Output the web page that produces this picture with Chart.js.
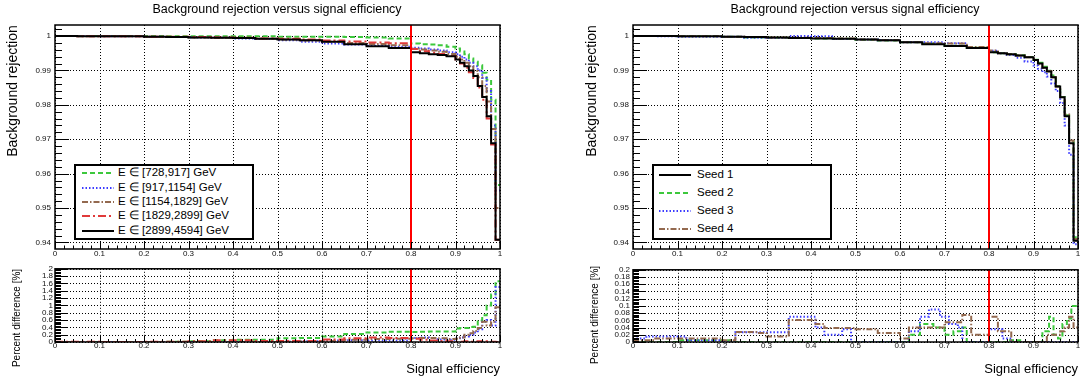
<!DOCTYPE html>
<html>
<head>
<meta charset="utf-8">
<script src="https://cdn.jsdelivr.net/npm/chart.js@4.4.1/dist/chart.umd.min.js"></script>
<style>
  body { margin: 0; background: #fff; }
  #wrap { position: relative; width: 1082px; height: 383px; overflow: hidden; font-family: "Liberation Sans", Arial, sans-serif; color: #000; }
  canvas { position: absolute; }
  .txt { position: absolute; white-space: nowrap; line-height: 1; }
  .center { transform: translate(-50%, -50%); }
  .rot { transform: translate(-50%, -50%) rotate(-90deg); }
  .right { transform: translate(-100%, -50%); }
  .legend { position: absolute; box-sizing: border-box; border: 2px solid #000; background: #fff; }
  .legend .row { position: relative; font-size: 11.5px; }
  .legend svg { position: absolute; top: 50%; transform: translateY(-50%); }
  .legend span { position: absolute; top: 50%; transform: translateY(-50%); line-height: 1; white-space: nowrap; }
</style>
</head>
<body>
<div id="wrap">
  <canvas id="mainL" width="541" height="262" style="left:0;top:0;width:541px;height:262px"></canvas>
  <canvas id="diffL" width="541" height="121" style="left:0;top:262px;width:541px;height:121px"></canvas>
  <canvas id="mainR" width="541" height="262" style="left:541px;top:0;width:541px;height:262px"></canvas>
  <canvas id="diffR" width="541" height="121" style="left:541px;top:262px;width:541px;height:121px"></canvas>

  <div class="txt center" style="left:277px;top:9px;font-size:12.5px">Background rejection versus signal efficiency</div>
  <div class="txt center" style="left:855px;top:9px;font-size:12.5px">Background rejection versus signal efficiency</div>
  <div class="txt rot" style="left:12px;top:91px;font-size:14px">Background rejection</div>
  <div class="txt rot" style="left:591px;top:91px;font-size:14px">Background rejection</div>
  <div class="txt rot" style="left:17px;top:318px;font-size:10px">Percent difference [%]</div>
  <div class="txt rot" style="left:595px;top:315px;font-size:10px">Percent difference  [%]</div>
  <div class="txt right" style="left:500px;top:368px;font-size:13px">Signal efficiency</div>
  <div class="txt right" style="left:1078px;top:368px;font-size:13px">Signal efficiency</div>

  <div class="legend" id="legL" style="left:74px;top:164px;width:180px;height:76px"></div>
  <div class="legend" id="legR" style="left:652px;top:164px;width:180px;height:76px"></div>
</div>

<script>
const FONT = "'Liberation Sans', Arial, sans-serif";

// axes
const X_TICKS = [0, 0.1, 0.2, 0.3, 0.4, 0.5, 0.6, 0.7, 0.8, 0.9, 1];
const X_LABELS = ["0", "0.1", "0.2", "0.3", "0.4", "0.5", "0.6", "0.7", "0.8", "0.9", "1"];
const REJ_TICKS = [0.94, 0.95, 0.96, 0.97, 0.98, 0.99, 1];
const REJ_LABELS = ["0.94", "0.95", "0.96", "0.97", "0.98", "0.99", "1"];
const DIFF_L_TICKS = [0, 0.2, 0.4, 0.6, 0.8, 1, 1.2, 1.4, 1.6, 1.8, 2];
const DIFF_L_LABELS = ["0", "0.2", "0.4", "0.6", "0.8", "1", "1.2", "1.4", "1.6", "1.8", "2"];
const DIFF_R_TICKS = [0, 0.02, 0.04, 0.06, 0.08, 0.1, 0.12, 0.14, 0.16, 0.18, 0.2];
const DIFF_R_LABELS = ["0", "0.02", "0.04", "0.06", "0.08", "0.1", "0.12", "0.14", "0.16", "0.18", "0.2"];
const REJ_MIN = 0.9381, REJ_MAX = 1.0032;
const CUT = 0.8;

// signal efficiency bin edges (left edge of each step)
const EFF = [0, 0.05, 0.1, 0.15, 0.2, 0.25, 0.3, 0.35, 0.4, 0.45, 0.5, 0.55, 0.6, 0.65, 0.7, 0.75,
  0.8, 0.82, 0.84, 0.86, 0.88, 0.9, 0.91, 0.92, 0.93, 0.94, 0.95, 0.96, 0.97, 0.98, 0.99, 1];

// left panel: energy bins
const E_NAMES = ["E \u2208 [728,917] GeV", "E \u2208 [917,1154] GeV", "E \u2208 [1154,1829] GeV", "E \u2208 [1829,2899] GeV", "E \u2208 [2899,4594] GeV"];
const rejE1 = [1.0000, 1.0000, 1.0000, 1.0000, 1.0000, 0.9999, 0.9999, 0.9999, 0.9999, 0.9999, 0.9998, 0.9998, 0.9998, 0.9997, 0.9996, 0.9993,
  0.9978, 0.9976, 0.9975, 0.9973, 0.9969, 0.9964, 0.9955, 0.9947, 0.9935, 0.9925, 0.9915, 0.9893, 0.9873, 0.9815, 0.9567, 0.9567];
const rejE2 = [1.0000, 1.0000, 0.9999, 0.9999, 0.9998, 0.9997, 0.9996, 0.9995, 0.9993, 0.9991, 0.9988, 0.9983, 0.9978, 0.9975, 0.9972, 0.9969,
  0.9966, 0.9964, 0.9961, 0.9958, 0.9953, 0.9947, 0.9940, 0.9932, 0.9922, 0.9912, 0.9900, 0.9878, 0.9840, 0.9740, 0.9551, 0.9551];
const rejE3 = [1.0000, 0.9999, 0.9999, 0.9999, 0.9998, 0.9997, 0.9996, 0.9995, 0.9994, 0.9992, 0.9990, 0.9987, 0.9984, 0.9980, 0.9977, 0.9973,
  0.9963, 0.9961, 0.9958, 0.9954, 0.9948, 0.9940, 0.9932, 0.9922, 0.9912, 0.9898, 0.9880, 0.9855, 0.9810, 0.9730, 0.9500, 0.9500];
const rejE4 = [1.0000, 0.9999, 0.9999, 0.9999, 0.9998, 0.9998, 0.9997, 0.9996, 0.9995, 0.9993, 0.9992, 0.9990, 0.9987, 0.9984, 0.9981, 0.9979,
  0.9962, 0.9956, 0.9951, 0.9948, 0.9942, 0.9932, 0.9920, 0.9908, 0.9895, 0.9878, 0.9850, 0.9815, 0.9760, 0.9685, 0.9408, 0.9408];
const rejE5 = [1.0000, 0.9999, 0.9999, 0.9999, 0.9998, 0.9997, 0.9996, 0.9995, 0.9994, 0.9992, 0.9990, 0.9988, 0.9983, 0.9976, 0.9970, 0.9965,
  0.9953, 0.9950, 0.9947, 0.9945, 0.9941, 0.9932, 0.9922, 0.9912, 0.9900, 0.9884, 0.9855, 0.9823, 0.9767, 0.9688, 0.9408, 0.9408];

// left panel: percent difference to the highest energy bin
const diffE1 = [0, 0, 0, 0, 0, 0.01, 0.02, 0.05, 0.06, 0.06, 0.10, 0.11, 0.15, 0.22, 0.26, 0.28,
  0.27, 0.28, 0.29, 0.29, 0.29, 0.37, 0.38, 0.38, 0.41, 0.42, 0.59, 0.73, 1.00, 1.30, 1.66, 1.66];
const diffE2 = [0, 0, 0, 0, 0, 0, 0, 0, 0, 0, 0.01, 0.02, 0.04, 0.05, 0.04, 0.04,
  0.11, 0.12, 0.11, 0.07, 0.06, 0.10, 0.12, 0.15, 0.20, 0.26, 0.35, 0.55, 0.60, 0.45, 1.50, 1.50];
const diffE3 = [0, 0, 0, 0, 0, 0, 0, 0, 0, 0, 0.01, 0.02, 0.03, 0.06, 0.08, 0.09,
  0.10, 0.11, 0.11, 0.10, 0.08, 0.09, 0.12, 0.20, 0.24, 0.30, 0.38, 0.55, 0.45, 0.55, 0.95, 0.95];
const diffE4 = [0.01, 0.01, 0, 0, 0.01, 0.01, 0.02, 0.05, 0.05, 0.03, 0.03, 0.03, 0.07, 0.10, 0.12, 0.11,
  0.09, 0.06, 0.04, 0.03, 0.02, 0.01, 0.01, 0.02, 0.01, 0.01, 0.02, 0.01, 0.02, 0.01, 0, 0];

// right panel: seeds
const SEED_NAMES = ["Seed 1", "Seed 2", "Seed 3", "Seed 4"];
const rejSeed1 = [1.0000, 1.0000, 0.9999, 0.9999, 0.9998, 0.9997, 0.9996, 0.9994, 0.9993, 0.9992, 0.9990, 0.9988, 0.9982, 0.9976, 0.9971, 0.9965,
  0.9953, 0.9950, 0.9947, 0.9943, 0.9938, 0.9930, 0.9920, 0.9908, 0.9897, 0.9880, 0.9853, 0.9822, 0.9767, 0.9688, 0.9405, 0.9405];
const rejSeed2 = [1.0000, 1.0000, 0.9999, 0.9999, 0.9998, 0.9996, 0.9995, 0.9994, 0.9993, 0.9992, 0.9989, 0.9987, 0.9982, 0.9978, 0.9972, 0.9966,
  0.9953, 0.9950, 0.9947, 0.9944, 0.9939, 0.9931, 0.9922, 0.9911, 0.9899, 0.9885, 0.9855, 0.9823, 0.9770, 0.9695, 0.9415, 0.9415];
const rejSeed3 = [1.0000, 0.9999, 0.9998, 0.9998, 0.9998, 0.9995, 0.9994, 1.0000, 0.9999, 0.9991, 0.9990, 0.9988, 0.9982, 0.9982, 0.9979, 0.9965,
  0.9957, 0.9950, 0.9945, 0.9937, 0.9926, 0.9914, 0.9905, 0.9895, 0.9882, 0.9862, 0.9840, 0.9805, 0.9740, 0.9655, 0.9395, 0.9395];
const rejSeed4 = [1.0000, 1.0000, 0.9999, 0.9999, 0.9998, 0.9997, 0.9996, 0.9995, 0.9994, 0.9993, 0.9990, 0.9988, 0.9982, 0.9979, 0.9978, 0.9968,
  0.9958, 0.9950, 0.9947, 0.9943, 0.9938, 0.9930, 0.9918, 0.9908, 0.9898, 0.9880, 0.9853, 0.9822, 0.9772, 0.9696, 0.9410, 0.9410];

// right panel: percent difference to seed 1 (own step edges per seed)
const diffSeed2X = [0, 0.1, 0.2, 0.22, 0.62, 0.645, 0.675, 0.7, 0.72, 0.74, 0.75, 0.84, 0.87, 0.92, 0.935, 0.945, 0.955, 0.965, 0.975, 0.985, 1];
const diffSeed2Y = [0, 0.005, 0.005, 0, 0.02, 0.05, 0.04, 0.02, 0.03, 0.04, 0, 0.005, 0, 0.03, 0.07, 0.02, 0.01, 0.05, 0.065, 0.1, 0.1];
const diffSeed3X = [0, 0.01, 0.03, 0.12, 0.2, 0.23, 0.35, 0.41, 0.43, 0.47, 0.49, 0.62, 0.645, 0.665, 0.69, 0.71, 0.73, 0.74, 0.8, 0.83, 0.85, 1];
const diffSeed3Y = [0, 0.01, 0.015, 0.005, 0, 0.027, 0.07, 0.04, 0.02, 0.035, 0, 0.03, 0.07, 0.09, 0.07, 0.05, 0.04, 0, 0.035, 0.01, 0, 0];
const diffSeed4X = [0, 0.05, 0.1, 0.2, 0.23, 0.28, 0.3, 0.35, 0.41, 0.43, 0.5, 0.55, 0.6, 0.62, 0.7, 0.74, 0.76, 0.8, 0.82, 0.85, 0.93, 0.96, 0.97, 0.98, 0.99, 1];
const diffSeed4Y = [0.005, 0.01, 0.01, 0.005, 0.028, 0.025, 0.015, 0.061, 0.05, 0.039, 0.035, 0.025, 0.01, 0.04, 0.055, 0.075, 0.02, 0.07, 0.03, 0, 0.02, 0.03, 0.04, 0.07, 0.04, 0.04];

// line styles
const GREEN = { color: "#3cc83c", dash: [5, 3] };
const BLUE = { color: "#3c3cff", dash: [1.5, 2] };
const BROWN = { color: "#93694f", dash: [6, 2, 1.5, 2] };
const RED = { color: "#e03a3a", dash: [8, 3, 2, 3] };
const BLACK = { color: "#000000", dash: [] };

function stepSet(xs, ys, st) {
  return {
    data: xs.map((x, i) => ({ x: x, y: ys[i] })),
    borderColor: st.color,
    borderDash: st.dash,
    borderWidth: 2,
    pointRadius: 0,
    stepped: "before",
    tension: 0,
    fill: false
  };
}

function cutSet(lo, hi) {
  return {
    data: [{ x: CUT, y: lo }, { x: CUT, y: hi }],
    borderColor: "#ff0000",
    borderWidth: 2,
    pointRadius: 0,
    fill: false
  };
}

function stepsBetween(min, max, step) {
  const out = [];
  for (let k = Math.ceil(min / step - 1e-6); k * step <= max + 1e-9; k++) out.push(k * step);
  return out;
}

// ROOT-like frame: dotted grid, inner tick marks, black box
const rootFrame = {
  id: "rootFrame",
  beforeDatasetsDraw(chart) {
    const { ctx, chartArea: a, scales: { x, y } } = chart;
    ctx.save();
    ctx.strokeStyle = "#000";
    ctx.lineWidth = 1;
    ctx.setLineDash([1, 2]);
    ctx.beginPath();
    x.ticks.forEach((t) => {
      const px = Math.round(x.getPixelForValue(t.value)) + 0.5;
      ctx.moveTo(px, a.top);
      ctx.lineTo(px, a.bottom);
    });
    y.ticks.forEach((t) => {
      const py = Math.round(y.getPixelForValue(t.value)) + 0.5;
      ctx.moveTo(a.left, py);
      ctx.lineTo(a.right, py);
    });
    ctx.stroke();
    ctx.restore();
  },
  afterDatasetsDraw(chart, args, o) {
    const { ctx, chartArea: a, scales: { x, y } } = chart;
    const isMajor = (ticks, v) => ticks.some((t) => Math.abs(t.value - v) < 1e-7);
    ctx.save();
    ctx.strokeStyle = "#000";
    ctx.lineWidth = 1;
    ctx.beginPath();
    stepsBetween(x.min, x.max, o.xStep).forEach((v) => {
      const px = Math.round(x.getPixelForValue(v)) + 0.5;
      ctx.moveTo(px, a.bottom);
      ctx.lineTo(px, a.bottom - (isMajor(x.ticks, v) ? o.xMajor : o.xMinor));
    });
    stepsBetween(y.min, y.max, o.yStep).forEach((v) => {
      const py = Math.round(y.getPixelForValue(v)) + 0.5;
      ctx.moveTo(a.left, py);
      ctx.lineTo(a.left + (isMajor(y.ticks, v) ? o.yMajor : o.yMinor), py);
    });
    ctx.stroke();
    ctx.lineWidth = 1.5;
    ctx.strokeRect(a.left, a.top, a.right - a.left, a.bottom - a.top);
    ctx.restore();
  }
};

function makeChart(id, cfg) {
  return new Chart(document.getElementById(id), {
    type: "line",
    data: { datasets: cfg.datasets },
    options: {
      responsive: false,
      animation: false,
      devicePixelRatio: 1,
      layout: { padding: { top: cfg.padTop, right: cfg.padRight, left: 0, bottom: 0 } },
      plugins: {
        legend: { display: false },
        tooltip: { enabled: false },
        rootFrame: cfg.frame
      },
      scales: {
        x: {
          type: "linear", min: 0, max: 1,
          grid: { display: false, drawTicks: false },
          border: { display: false },
          afterBuildTicks: (s) => { s.ticks = X_TICKS.map((v) => ({ value: v })); },
          afterFit: (s) => { s.height = cfg.xHeight; },
          ticks: {
            autoSkip: false, maxRotation: 0, minRotation: 0, padding: cfg.xPad,
            font: { size: 8, family: FONT }, color: "#111",
            callback: (v, i) => X_LABELS[i]
          }
        },
        y: {
          type: "linear", min: cfg.yMin, max: cfg.yMax,
          grid: { display: false, drawTicks: false },
          border: { display: false },
          afterBuildTicks: (s) => { s.ticks = cfg.yTicks.map((v) => ({ value: v })); },
          afterFit: (s) => { s.width = cfg.yWidth; },
          ticks: {
            autoSkip: false, padding: cfg.yPad,
            font: { size: 8, family: FONT }, color: "#111",
            callback: (v, i) => cfg.yLabels[i]
          }
        }
      }
    },
    plugins: [rootFrame]
  });
}

const MAIN_FRAME = { xStep: 0.02, xMajor: 7, xMinor: 3.5, yStep: 0.002, yMajor: 14, yMinor: 7 };

makeChart("mainL", {
  datasets: [cutSet(REJ_MIN, REJ_MAX), stepSet(EFF, rejE5, BLACK), stepSet(EFF, rejE4, RED),
    stepSet(EFF, rejE3, BROWN), stepSet(EFF, rejE2, BLUE), stepSet(EFF, rejE1, GREEN)],
  yMin: REJ_MIN, yMax: REJ_MAX, yTicks: REJ_TICKS, yLabels: REJ_LABELS,
  yWidth: 55, yPad: 4, xHeight: 13, xPad: 0, padTop: 25, padRight: 41, frame: MAIN_FRAME
});

makeChart("diffL", {
  datasets: [cutSet(0, 2), stepSet(EFF, diffE4, RED), stepSet(EFF, diffE3, BROWN),
    stepSet(EFF, diffE2, BLUE), stepSet(EFF, diffE1, GREEN)],
  yMin: 0, yMax: 2, yTicks: DIFF_L_TICKS, yLabels: DIFF_L_LABELS,
  yWidth: 55, yPad: 2, xHeight: 41, xPad: -1, padTop: 6, padRight: 41,
  frame: { xStep: 0.02, xMajor: 6, xMinor: 3, yStep: 0.04, yMajor: 12, yMinor: 6 }
});

makeChart("mainR", {
  datasets: [cutSet(REJ_MIN, REJ_MAX), stepSet(EFF, rejSeed1, BLACK), stepSet(EFF, rejSeed4, BROWN),
    stepSet(EFF, rejSeed3, BLUE), stepSet(EFF, rejSeed2, GREEN)],
  yMin: REJ_MIN, yMax: REJ_MAX, yTicks: REJ_TICKS, yLabels: REJ_LABELS,
  yWidth: 92, yPad: 4, xHeight: 13, xPad: 0, padTop: 25, padRight: 4, frame: MAIN_FRAME
});

makeChart("diffR", {
  datasets: [cutSet(0, 0.2), stepSet(diffSeed4X, diffSeed4Y, BROWN),
    stepSet(diffSeed3X, diffSeed3Y, BLUE), stepSet(diffSeed2X, diffSeed2Y, GREEN)],
  yMin: 0, yMax: 0.2, yTicks: DIFF_R_TICKS, yLabels: DIFF_R_LABELS,
  yWidth: 92, yPad: 3, xHeight: 41, xPad: -1, padTop: 6, padRight: 4,
  frame: { xStep: 0.02, xMajor: 6, xMinor: 3, yStep: 0.004, yMajor: 12, yMinor: 6 }
});

// legends
function buildLegend(el, names, styles, rowH, lineX, textX) {
  el.innerHTML = names.map((n, i) => {
    const st = styles[i];
    return `<div class="row" style="height:${rowH}px">` +
      `<svg width="32" height="4" style="left:${lineX}px"><line x1="0" y1="2" x2="32" y2="2" stroke="${st.color}" stroke-width="2" stroke-dasharray="${st.dash.join(" ") || "none"}"/></svg>` +
      `<span style="left:${textX}px">${n}</span></div>`;
  }).join("");
}

buildLegend(document.getElementById("legL"), E_NAMES, [GREEN, BLUE, BROWN, RED, BLACK], 14.4, 6, 42);
buildLegend(document.getElementById("legR"), SEED_NAMES, [BLACK, GREEN, BLUE, BROWN], 18, 5, 43);
</script>
</body>
</html>
